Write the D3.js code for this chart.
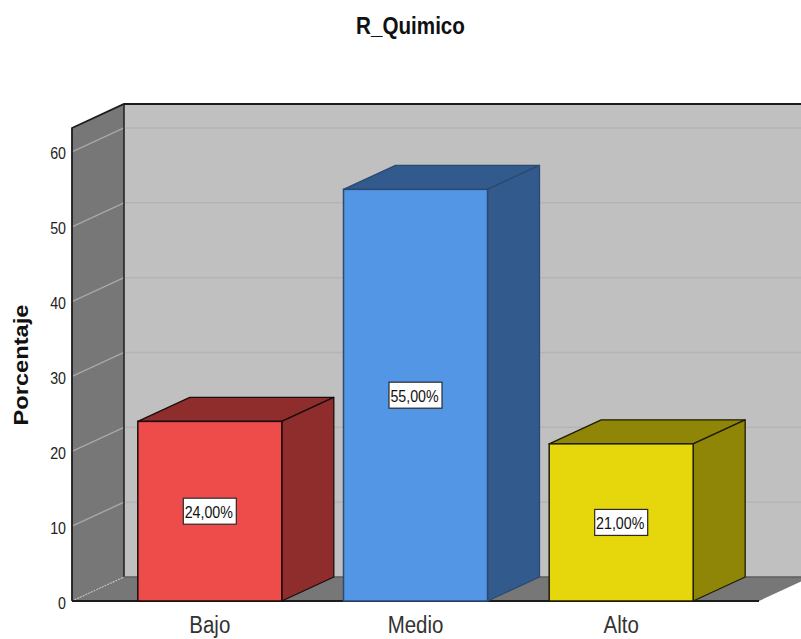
<!DOCTYPE html>
<html>
<head>
<meta charset="utf-8">
<script src="https://cdn.jsdelivr.net/npm/d3@7"></script>
<style>
  html, body { margin: 0; padding: 0; background: #fff; }
  svg { display: block; }
  text { font-family: "Liberation Sans", Arial, sans-serif; }
</style>
</head>
<body>
<svg id="chart" width="801" height="639"></svg>
<script>
const categories = ["Bajo", "Medio", "Alto"];
const percentages = [24, 55, 21];
const labels = ["24,00%", "55,00%", "21,00%"];
const frontColors = ["#ee4b4b", "#5396e6", "#e5d70c"];
const sideColors = ["#8f2d2d", "#325a8c", "#8f8608"];
const edgeColors = ["#1a0d0d", "#2a4a72", "#1f1d05"];
const yTicks = [0, 10, 20, 30, 40, 50, 60];
const yMax = 63.2;

const depthX = 52, depthY = -24;
const svg = d3.select("#chart");

const x = d3.scaleBand().domain(categories).range([72, 759]).paddingInner(0.3).paddingOuter(0.32);
const y = d3.scaleLinear().domain([0, yMax]).range([601, 128]);
const path = pts => "M" + pts.map(p => p.join(",")).join("L") + "Z";
const x0 = x.range()[0], x1 = x.range()[1];
const base = y(0), wallTop = y(yMax);
const rightEdge = 830;

// Back wall
svg.append("path")
  .attr("d", path([[x0 + depthX, wallTop + depthY], [rightEdge, wallTop + depthY], [rightEdge, base + depthY], [x0 + depthX, base + depthY]]))
  .attr("fill", "#c0c0c0");

// Side wall
svg.append("path")
  .attr("d", path([[x0, wallTop], [x0 + depthX, wallTop + depthY], [x0 + depthX, base + depthY], [x0, base]]))
  .attr("fill", "#777777");

// Floor
svg.append("path")
  .attr("d", path([[x0, base], [x0 + depthX, base + depthY], [x1 + depthX, base + depthY], [x1, base]]))
  .attr("fill", "#777777");

// Gridlines on both walls
const gridTicks = yTicks.filter(t => t > 0);
svg.append("g").selectAll("line").data(gridTicks).join("line")
  .attr("x1", x0 + depthX).attr("x2", rightEdge)
  .attr("y1", d => y(d) + depthY).attr("y2", d => y(d) + depthY)
  .attr("stroke", "#b4b4b4").attr("stroke-width", 1.5);
svg.append("g").selectAll("line").data(gridTicks).join("line")
  .attr("x1", x0).attr("x2", x0 + depthX)
  .attr("y1", d => y(d)).attr("y2", d => y(d) + depthY)
  .attr("stroke", "#a8a8a8").attr("stroke-width", 1.4);

// Wall and floor outlines
const ink = "#1c1c1c";
svg.append("path")
  .attr("d", `M${x0},${base}L${x0},${wallTop}L${x0 + depthX},${wallTop + depthY}L${rightEdge},${wallTop + depthY}`)
  .attr("fill", "none").attr("stroke", ink).attr("stroke-width", 1.8);
svg.append("line")
  .attr("x1", x0 + depthX).attr("x2", x0 + depthX)
  .attr("y1", wallTop + depthY).attr("y2", base + depthY)
  .attr("stroke", ink).attr("stroke-width", 1.5);
svg.append("line")
  .attr("x1", x0 + depthX).attr("x2", rightEdge)
  .attr("y1", base + depthY).attr("y2", base + depthY)
  .attr("stroke", "#5c5c5c").attr("stroke-width", 1.5);
svg.append("line")
  .attr("x1", x0).attr("x2", x0 + depthX)
  .attr("y1", base).attr("y2", base + depthY)
  .attr("stroke", "#c4c4c4").attr("stroke-width", 1.2).attr("stroke-dasharray", "1.5 1.5");
svg.append("line")
  .attr("x1", x0).attr("x2", x1)
  .attr("y1", base).attr("y2", base)
  .attr("stroke", ink).attr("stroke-width", 2);

// Bars as extruded boxes
const rows = categories.map((c, i) => ({
  c, i, v: percentages[i], label: labels[i],
  front: frontColors[i], side: sideColors[i], edge: edgeColors[i]
}));
const bars = svg.append("g").selectAll("g").data(rows).join("g");
const bw = x.bandwidth();

bars.append("path")
  .attr("d", d => path([[x(d.c), y(d.v)], [x(d.c) + depthX, y(d.v) + depthY], [x(d.c) + bw + depthX, y(d.v) + depthY], [x(d.c) + bw, y(d.v)]]))
  .attr("fill", d => d.side).attr("stroke", d => d.edge).attr("stroke-width", 1.3).attr("stroke-linejoin", "round");
bars.append("path")
  .attr("d", d => path([[x(d.c) + bw, y(d.v)], [x(d.c) + bw + depthX, y(d.v) + depthY], [x(d.c) + bw + depthX, base + depthY], [x(d.c) + bw, base]]))
  .attr("fill", d => d.side).attr("stroke", d => d.edge).attr("stroke-width", 1.3).attr("stroke-linejoin", "round");
bars.append("rect")
  .attr("x", d => x(d.c)).attr("y", d => y(d.v))
  .attr("width", bw).attr("height", d => base - y(d.v))
  .attr("fill", d => d.front).attr("stroke", d => d.edge).attr("stroke-width", 1.5);

// Value labels in boxes at mid height; all text uses a tall, condensed letterform
bars.append("rect")
  .attr("x", d => x(d.c) + bw / 2 - 26.5)
  .attr("y", d => y(d.v / 2) - 13)
  .attr("width", 53).attr("height", 26)
  .attr("fill", "#ffffff").attr("stroke", "#2a2a2a").attr("stroke-width", 1.2);
bars.append("text")
  .attr("transform", d => `translate(${x(d.c) + bw / 2 - 1},${y(d.v / 2) + 6.5}) scale(0.89,1)`)
  .attr("text-anchor", "middle")
  .attr("font-size", 16)
  .attr("fill", "#111")
  .text(d => d.label);

// Axes
const yAxis = svg.append("g")
  .attr("transform", `translate(${x0},0)`)
  .call(d3.axisLeft(y).tickValues(yTicks).tickSize(0).tickPadding(0));
yAxis.select(".domain").remove();
yAxis.selectAll("text")
  .attr("x", 0).attr("dy", 0)
  .attr("transform", "translate(-6,7) scale(0.89,1)")
  .attr("font-size", 16).attr("fill", "#222")
  .style("font-family", '"Liberation Sans", Arial, sans-serif');

const xAxis = svg.append("g")
  .attr("transform", `translate(0,${base})`)
  .call(d3.axisBottom(x).tickSize(0).tickPadding(0));
xAxis.select(".domain").remove();
xAxis.selectAll("text")
  .attr("y", 0).attr("dy", 0)
  .attr("transform", "translate(0,31.5) scale(0.89,1)")
  .attr("font-size", 23).attr("fill", "#333")
  .style("font-family", '"Liberation Sans", Arial, sans-serif');

// Title and axis label
svg.append("text")
  .attr("transform", "translate(410.5,34) scale(0.86,1)")
  .attr("text-anchor", "middle")
  .attr("font-size", 24).attr("font-weight", "bold").attr("fill", "#111")
  .text("R_Quimico");
svg.append("text")
  .attr("transform", "translate(27.5,365) rotate(-90) scale(1.125,1)")
  .attr("text-anchor", "middle")
  .attr("font-size", 21).attr("font-weight", "bold").attr("fill", "#111")
  .text("Porcentaje");
</script>
</body>
</html>
